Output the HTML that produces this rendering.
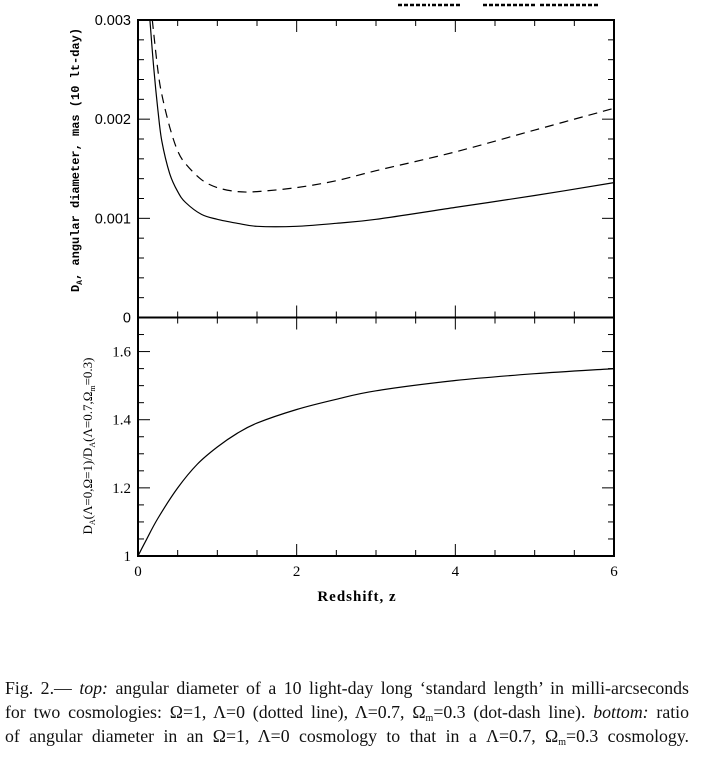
<!DOCTYPE html>
<html><head><meta charset="utf-8"><style>
body{margin:0;background:#fff;width:701px;height:762px;overflow:hidden;}
.cap{position:absolute;left:5px;top:676px;width:684px;font-family:"Liberation Serif",serif;font-size:17.8px;line-height:24px;color:#111;}
.cap div{white-space:nowrap;text-align:justify;text-align-last:justify;height:24px;overflow:visible;}
.cap sub{font-size:10px;line-height:0;vertical-align:baseline;position:relative;top:3px;}
</style></head><body>
<svg id="chart" width="701" height="670" style="position:absolute;left:0;top:0" xmlns="http://www.w3.org/2000/svg"></svg>
<div class="cap">
<div>Fig. 2.— <i>top:</i> angular diameter of a 10 light-day long ‘standard length’ in milli-arcseconds</div>
<div>for two cosmologies: Ω=1, Λ=0 (dotted line), Λ=0.7, Ω<sub>m</sub>=0.3 (dot-dash line). <i>bottom:</i> ratio</div>
<div>of angular diameter in an Ω=1, Λ=0 cosmology to that in a Λ=0.7, Ω<sub>m</sub>=0.3 cosmology.</div>
</div>
<script>
const zDashed=[0.18,0.25,0.3,0.4,0.5,0.6,0.8,1.0,1.25,1.5,2,2.5,3,4,5,6];
const dashedVals=[0.003,0.0025,0.00225,0.00192,0.00168,0.00155,0.00139,0.00131,0.00127,0.00127,0.00131,0.00138,0.00148,0.00167,0.00189,0.00211];
const zSolid=[0.15,0.2,0.25,0.3,0.4,0.5,0.6,0.8,1,1.25,1.5,2,2.5,3,4,5,6];
const solidVals=[0.003,0.0025,0.0021,0.00178,0.00145,0.00127,0.00116,0.00104,0.00099,0.00095,0.00092,0.00092,0.00095,0.00099,0.00111,0.00123,0.00136];
const zRatio=[0,0.1,0.25,0.5,0.75,1,1.25,1.5,2,2.5,3,4,5,6];
const ratioVals=[1,1.045,1.11,1.2,1.27,1.32,1.36,1.39,1.43,1.46,1.485,1.515,1.535,1.55];
const xTicks=[0,2,4,6];
const topTicks=[0,0.001,0.002,0.003];
const topTickLabels=["0","0.001","0.002","0.003"];
const botTicks=[1,1.2,1.4,1.6];
const botTickLabels=["1","1.2","1.4","1.6"];

const NS="http://www.w3.org/2000/svg";
const svg=document.getElementById('chart');
const L=138,R=614,T=20,MID=317.5,B=556;
const xs=z=>L+(R-L)*z/6;
const yTop=v=>MID-(MID-T)*v/0.003;
const yBot=v=>B-(B-MID)*(v-1)/0.7;
function mk(tag,attrs,parent){const e=document.createElementNS(NS,tag);for(const k in attrs)e.setAttribute(k,attrs[k]);(parent||svg).appendChild(e);return e;}

const f1=mk('rect',{x:L,y:T,width:R-L,height:MID-T,fill:'none',stroke:'#000','stroke-width':2});


const f2=mk('rect',{x:L,y:MID,width:R-L,height:B-MID,fill:'none',stroke:'#000','stroke-width':2});



for(let i=0;i<=12;i++){const z=i*0.5;const x=xs(z);const maj=(i%4===0);const len=maj?12:6;
  [[T,1],[MID,-1],[MID,1],[B,-1]].forEach(([y,d])=>{mk('line',{x1:x,x2:x,y1:y,y2:y+d*len,stroke:'#000','stroke-width':1});});
}
for(let i=0;i<=15;i++){const v=i*0.0002;const y=yTop(v);const maj=(i%5===0);const len=maj?12:6;
  mk('line',{x1:L,x2:L+len,y1:y,y2:y,stroke:'#000','stroke-width':1});
  mk('line',{x1:R,x2:R-len,y1:y,y2:y,stroke:'#000','stroke-width':1});}
for(let i=0;i<=14;i++){const v=1+i*0.05;const y=yBot(v);const maj=(i%4===0);const len=maj?12:6;
  mk('line',{x1:L,x2:L+len,y1:y,y2:y,stroke:'#000','stroke-width':1});
  mk('line',{x1:R,x2:R-len,y1:y,y2:y,stroke:'#000','stroke-width':1});}

topTicks.forEach((v,i)=>{const t=mk('text',{x:L-7,y:yTop(v)+5,'text-anchor':'end','font-family':'Liberation Sans, sans-serif','font-size':14.5});t.textContent=topTickLabels[i];

});
botTicks.forEach((v,i)=>{const t=mk('text',{x:L-7,y:yBot(v)+5,'text-anchor':'end','font-family':'Liberation Serif, serif','font-size':15});t.textContent=botTickLabels[i];

});
xTicks.forEach(z=>{const t=mk('text',{x:xs(z),y:B+20,'text-anchor':'middle','font-family':'Liberation Serif, serif','font-size':15});t.textContent=String(z);

});

const xt=mk('text',{x:357,y:601,'text-anchor':'middle','font-family':'Liberation Serif, serif','font-size':15,'font-weight':'bold','letter-spacing':'1'});xt.textContent='Redshift, z';


const yt1=mk('text',{x:0,y:0,'text-anchor':'middle','font-family':'Liberation Mono, monospace','font-size':12,'font-weight':'bold',transform:'translate(79,160) rotate(-90)'});
yt1.innerHTML='D<tspan font-size="8" dy="3">A</tspan><tspan dy="-3">, angular diameter, mas (10 lt-day)</tspan>';


const yt2=mk('text',{x:0,y:0,'text-anchor':'middle','font-family':'Liberation Serif, serif','font-size':13,transform:'translate(92,446) rotate(-90)'});
yt2.innerHTML='D<tspan font-size="8" dy="3">A</tspan><tspan dy="-3">(Λ=0,Ω=1)/D</tspan><tspan font-size="8" dy="3">A</tspan><tspan dy="-3">(Λ=0.7,Ω</tspan><tspan font-size="8" dy="3">m</tspan><tspan dy="-3">=0.3)</tspan>';



function pathFrom(zs,vs,fy){
  const p=zs.map((z,i)=>[xs(z),fy(vs[i])]);
  let d='M'+p[0][0].toFixed(1)+' '+p[0][1].toFixed(1);
  for(let i=0;i<p.length-1;i++){
    const p0=p[i-1]||p[i],p1=p[i],p2=p[i+1],p3=p[i+2]||p2;
    const c1=[p1[0]+(p2[0]-p0[0])/6,p1[1]+(p2[1]-p0[1])/6];
    const c2=[p2[0]-(p3[0]-p1[0])/6,p2[1]-(p3[1]-p1[1])/6];
    d+=' C'+c1.map(n=>n.toFixed(1)).join(' ')+' '+c2.map(n=>n.toFixed(1)).join(' ')+' '+p2[0].toFixed(1)+' '+p2[1].toFixed(1);
  }
  return d;
}
const dl=mk('path',{d:pathFrom(zDashed,dashedVals,yTop),fill:'none',stroke:'#000','stroke-width':1.2,'stroke-dasharray':'9,6','stroke-linejoin':'round'});


const sl=mk('path',{d:pathFrom(zSolid,solidVals,yTop),fill:'none',stroke:'#000','stroke-width':1.2,'stroke-linejoin':'round'});


const rl=mk('path',{d:pathFrom(zRatio,ratioVals,yBot),fill:'none',stroke:'#000','stroke-width':1.2,'stroke-linejoin':'round'});



const lg=mk('g',{});


[[398,430],[432,460],[483,535],[540,598]].forEach(([a,b])=>{mk('line',{x1:a,x2:b,y1:5,y2:5,stroke:'#000','stroke-width':2.5,'stroke-dasharray':'4,2'},lg);});
</script>
</body></html>
